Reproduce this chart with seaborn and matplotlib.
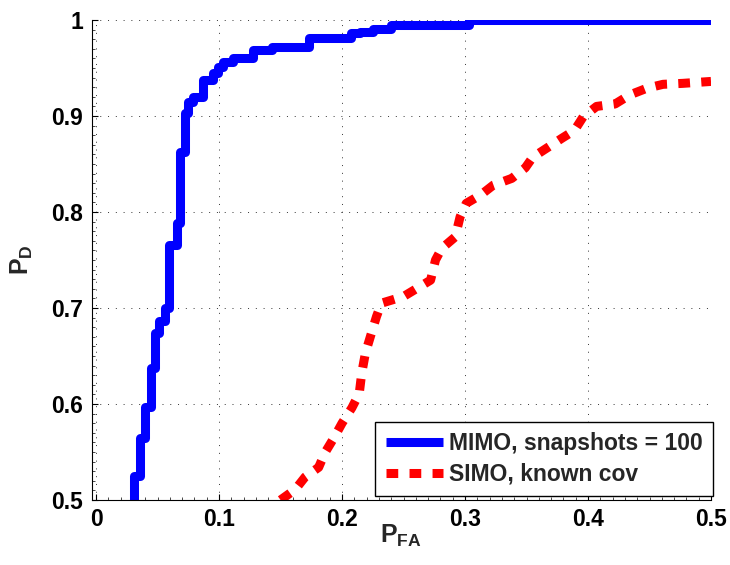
import matplotlib
matplotlib.use("Agg")
import matplotlib.pyplot as plt
from matplotlib.ticker import MultipleLocator
import seaborn as sns
import pandas as pd

# Empirical ROC of the MIMO detector (staircase vertices)
mimo_pfa = [0.031, 0.031, 0.036, 0.036, 0.040, 0.040, 0.045, 0.045, 0.048, 0.048,
            0.051, 0.051, 0.056, 0.056, 0.0596, 0.0596, 0.0655, 0.0655, 0.068, 0.068,
            0.072, 0.072, 0.075, 0.075, 0.079, 0.079, 0.087, 0.087, 0.095, 0.095,
            0.099, 0.099, 0.103, 0.103, 0.111, 0.111, 0.128, 0.128, 0.143, 0.143,
            0.173, 0.173, 0.207, 0.207, 0.215, 0.215, 0.225, 0.225, 0.240, 0.240,
            0.303, 0.303, 0.500]
mimo_pd = [0.500, 0.525, 0.525, 0.565, 0.565, 0.597, 0.597, 0.637, 0.637, 0.674,
           0.674, 0.686, 0.686, 0.700, 0.700, 0.766, 0.766, 0.789, 0.789, 0.863,
           0.863, 0.903, 0.903, 0.915, 0.915, 0.920, 0.920, 0.938, 0.938, 0.945,
           0.945, 0.951, 0.951, 0.956, 0.956, 0.960, 0.960, 0.969, 0.969, 0.972,
           0.972, 0.981, 0.981, 0.986, 0.986, 0.988, 0.988, 0.991, 0.991, 0.995,
           0.995, 1.000, 1.000]

# ROC of the SIMO detector with known covariance
simo_pfa = [0.150, 0.162, 0.170, 0.181, 0.186, 0.194, 0.200, 0.208, 0.214, 0.216,
            0.219, 0.223, 0.228, 0.232, 0.250, 0.272, 0.276, 0.281, 0.292, 0.296,
            0.301, 0.313, 0.323, 0.338, 0.349, 0.355, 0.367, 0.379, 0.389, 0.396,
            0.407, 0.422, 0.434, 0.448, 0.461, 0.477, 0.500]
simo_pd = [0.500, 0.511, 0.524, 0.534, 0.549, 0.566, 0.580, 0.596, 0.611, 0.632,
           0.653, 0.670, 0.691, 0.705, 0.712, 0.729, 0.750, 0.762, 0.774, 0.795,
           0.809, 0.818, 0.828, 0.835, 0.846, 0.857, 0.867, 0.877, 0.885, 0.899,
           0.910, 0.9125, 0.922, 0.929, 0.933, 0.934, 0.936]

labels = ["MIMO, snapshots = 100", "SIMO, known cov"]
x_ticks = [0, 0.1, 0.2, 0.3, 0.4, 0.5]
y_ticks = [0.5, 0.6, 0.7, 0.8, 0.9, 1.0]
x_ticklabels = ["0", "0.1", "0.2", "0.3", "0.4", "0.5"]
y_ticklabels = ["0.5", "0.6", "0.7", "0.8", "0.9", "1"]

sns.set_theme(style="white")
plt.rcParams["font.family"] = ["Liberation Sans", "DejaVu Sans"]
plt.rcParams["font.weight"] = "bold"
plt.rcParams["mathtext.fontset"] = "custom"
plt.rcParams["mathtext.rm"] = "Liberation Sans:bold"
plt.rcParams["mathtext.bf"] = "Liberation Sans:bold"
plt.rcParams["mathtext.it"] = "Liberation Sans:bold"

mimo = pd.DataFrame({"pfa": mimo_pfa, "pd": mimo_pd})
simo = pd.DataFrame({"pfa": simo_pfa, "pd": simo_pd})

fig = plt.figure(figsize=(7.30, 5.65), dpi=100)
ax = fig.add_axes([91.5 / 730, 1 - 500 / 565, (711 - 91.5) / 730, 480 / 565])

sns.lineplot(data=mimo, x="pfa", y="pd", sort=False, estimator=None, ax=ax,
             color=(0, 0, 1), lw=6.5, label=labels[0])
sns.lineplot(data=simo, x="pfa", y="pd", sort=False, estimator=None, ax=ax,
             color=(1, 0, 0), lw=6.5, label=labels[1])
for ln in ax.lines:
    ln.set_solid_capstyle("butt")
    ln.set_solid_joinstyle("round")
    ln.set_dash_joinstyle("round")
ax.lines[1].set_dashes((1.3, 1.25))
ax.lines[1].set_dash_capstyle("butt")

ax.set_xlim(-0.0037, 0.5)
ax.set_ylim(0.5, 1.0)
ax.set_xticks(x_ticks)
ax.set_xticklabels(x_ticklabels)
ax.set_yticks(y_ticks)
ax.set_yticklabels(y_ticklabels)
ax.xaxis.set_minor_locator(MultipleLocator(0.01))
ax.yaxis.set_minor_locator(MultipleLocator(0.01))

# Dotted grid at the major ticks, including the x = 0 line
ax.grid(False)
for xv in x_ticks:
    ax.axvline(xv, color="0.2", lw=0.7, ls=(0, (1, 7)), zorder=0.5)
for yv in y_ticks:
    ax.axhline(yv, color="0.2", lw=0.7, ls=(0, (1, 7)), zorder=0.5)

for side in ("top", "right"):
    ax.spines[side].set_visible(False)
for side in ("left", "bottom"):
    ax.spines[side].set_color("black")
    ax.spines[side].set_linewidth(0.8)

ax.tick_params(axis="both", which="major", direction="in", length=4.5, width=0.8,
               colors="black", labelsize=16.5, pad=6,
               left=True, bottom=True)
ax.tick_params(axis="both", which="minor", direction="in", length=2.0, width=0.5,
               colors="black", left=True, bottom=True)
for t in ax.get_xticklabels() + ax.get_yticklabels():
    t.set_fontweight("bold")

ax.set_xlabel(r"$\mathbf{P_{FA}}$", fontsize=18, labelpad=-6)
ax.set_ylabel(r"$\mathbf{P_{D}}$", fontsize=18, labelpad=12)

leg = ax.legend(loc="lower right", bbox_to_anchor=(1.003, 0.008), borderaxespad=0,
                frameon=True, fancybox=False, framealpha=1, edgecolor="black",
                prop={"weight": "bold", "size": 16.5}, handlelength=2.5,
                handletextpad=0.25, borderpad=0.45, labelspacing=0.35)
leg.get_frame().set_linewidth(1.0)

fig.savefig("out.png", dpi=100)
